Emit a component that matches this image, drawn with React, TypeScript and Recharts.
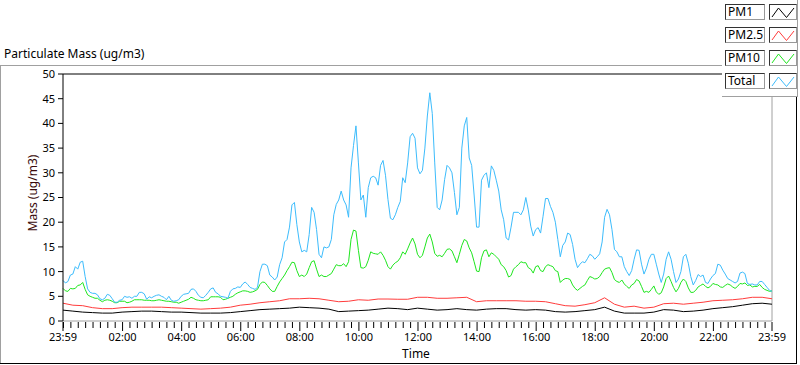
import React from 'react';
import { LineChart, Line, XAxis, YAxis, ReferenceLine } from 'recharts';

// Total mass, one value every 5 minutes starting 23:59
const totalValues = [
  8.2, 7.7, 8.0, 9.3, 9.5, 11.0, 10.5, 11.9, 12.1, 9.0,
  6.5, 5.8, 5.6, 5.6, 5.3, 4.5, 4.3, 4.6, 5.4, 5.2,
  4.5, 3.8, 3.8, 4.2, 4.3, 5.0, 4.8, 4.9, 4.6, 5.0,
  5.0, 5.8, 5.8, 5.5, 4.4, 4.9, 4.7, 5.0, 5.2, 5.3,
  5.0, 4.8, 4.3, 5.0, 4.2, 4.0, 4.1, 4.3, 5.0, 5.4,
  5.5, 5.6, 6.4, 6.5, 6.0, 5.2, 4.8, 4.7, 5.2, 5.8,
  6.5, 6.7, 5.8, 5.5, 5.0, 4.9, 4.8, 4.6, 6.0, 6.5,
  6.6, 6.9, 6.8, 7.5, 7.9, 7.4, 6.8, 6.6, 6.4, 6.8,
  10.0, 11.5, 11.5, 11.2, 9.3, 8.9, 8.3, 8.9, 11.4, 12.8,
  16.0, 16.5, 19.0, 23.5, 24.0, 19.5, 16.0, 14.0, 14.3, 14.0,
  17.5, 23.0, 22.0, 18.5, 13.5, 12.8, 15.0, 14.8, 15.0, 16.5,
  21.5, 23.6, 24.5, 26.3, 24.5, 23.5, 21.0,
  31.0, 35.5, 39.5, 32.0, 24.5, 25.5, 21.0, 27.0, 29.0, 29.3,
  29.0, 27.5, 31.5, 32.5, 29.5, 24.6, 20.8, 20.5, 21.5, 23.0,
  24.2, 29.0, 28.0, 32.0, 37.3, 38.0, 37.0, 31.0, 29.8, 30.5,
  35.0, 41.5, 46.2, 42.0, 32.0, 23.0, 22.5, 24.5, 28.6, 31.5,
  31.0, 30.0, 26.0, 21.5, 23.0, 35.0, 39.5, 41.2, 33.0, 31.5,
  25.5, 19.0, 19.0, 28.5, 29.5, 30.0, 27.0,
  31.4, 30.5, 28.5, 26.3, 22.5, 20.5, 16.8, 16.4, 19.0, 22.0,
  22.0, 22.0, 21.5, 22.5, 25.0, 22.5, 19.2, 17.2, 18.5, 18.9,
  17.8, 21.2, 24.8, 24.8, 23.2, 22.0, 20.0, 16.5, 13.0, 15.3,
  16.0, 17.8, 17.5, 15.5, 12.5, 10.8, 11.5, 12.0, 11.8, 12.6,
  13.5, 13.2, 12.5, 13.0, 13.6, 16.0, 21.0, 22.6, 21.5, 18.5,
  14.5, 14.0, 13.0, 13.0, 11.0,
  10.0, 9.2, 10.2, 12.5, 14.4, 14.3, 11.5, 9.5, 10.7, 12.5,
  13.5, 13.5, 11.5, 9.5, 7.8, 9.5, 12.5, 14.0, 12.5, 10.0,
  7.8, 8.5, 10.0, 13.0, 13.5, 11.7, 9.0, 7.3, 8.2, 9.4,
  9.0, 9.3, 7.8, 7.6, 8.5, 9.2, 9.6, 11.5, 11.3, 10.3,
  9.5, 8.6, 8.3, 8.0, 7.7, 8.0, 9.7, 9.9, 9.6, 7.6,
  7.4, 7.5, 7.3, 7.3, 8.0, 8.0, 7.4, 6.8, 6.2, 6.0,
];

// PM10, one value every 5 minutes starting 23:59
const pm10Values = [
  6.6, 6.1, 6.0, 6.6, 6.5, 6.6, 7.2, 7.3, 7.8, 6.4,
  5.3, 5.0, 4.8, 4.6, 4.6, 4.2, 3.9, 4.2, 4.3, 4.2,
  4.0, 3.7, 3.7, 4.0, 4.0, 4.0, 3.7, 3.8, 4.0, 4.3,
  4.3, 4.3, 4.3, 4.2, 4.2, 4.2, 4.1, 4.1, 4.2, 4.3,
  4.2, 4.1, 4.0, 4.0, 3.9, 3.8, 3.8, 3.6, 3.8, 4.0,
  4.2, 4.4, 4.8, 4.6, 4.3, 4.2, 4.1, 4.1, 4.2, 4.3,
  4.9, 4.9, 4.9, 4.9, 4.8, 4.3, 4.4, 4.6, 4.8, 5.0,
  5.4, 5.7, 5.9, 6.1, 6.1, 6.0, 5.8, 5.9, 6.1, 6.4,
  7.4, 7.9, 7.8, 7.2, 6.5, 6.0, 6.0, 7.0, 7.9, 8.6,
  9.3, 10.2, 11.0, 11.9, 11.8, 10.2, 9.0, 9.3, 9.0, 9.5,
  10.8, 12.0, 12.2, 10.5, 9.0, 9.3, 9.0, 9.0, 9.3, 9.6,
  10.5, 11.4, 11.2, 11.2, 11.6, 11.0, 12.0,
  16.5, 18.4, 18.2, 14.3, 10.8, 10.7, 11.0, 12.3, 14.0, 13.7,
  13.6, 13.5, 14.0, 13.3, 12.3, 11.0, 10.5, 11.3, 11.8, 12.1,
  12.8, 14.0, 13.5, 14.6, 15.8, 16.8, 15.6, 13.5, 12.8, 13.3,
  15.0, 16.8, 17.6, 16.0, 13.7, 13.1, 13.3, 13.0, 13.7, 14.5,
  14.6, 14.2, 13.0, 11.8, 13.5, 15.3, 16.5, 16.2, 14.8, 13.8,
  12.0, 10.1, 10.0, 12.8, 14.2, 14.4, 13.0,
  13.8, 13.5, 13.0, 12.5, 11.4, 11.0, 10.2, 8.9, 9.2, 10.5,
  11.0, 11.4, 12.0, 11.8, 11.8, 10.8, 10.5, 9.7, 11.0, 11.2,
  10.2, 10.0, 11.0, 11.4, 11.2, 11.0, 10.2, 10.0, 7.8, 8.3,
  8.6, 8.6, 8.4, 7.3, 6.6, 6.2, 6.6, 7.0, 7.3, 8.2,
  9.0, 8.8, 8.5, 8.6, 9.0, 9.8, 10.5, 10.7, 10.8, 9.8,
  8.4, 8.0, 7.8, 8.3, 7.5,
  7.0, 6.6, 7.3, 7.6, 8.4, 8.1, 7.0, 5.8, 6.0, 5.8,
  6.4, 7.1, 5.9, 5.4, 5.7, 6.9, 8.6, 9.1, 8.0, 6.8,
  5.9, 6.6, 7.8, 8.5, 8.0, 6.7, 5.8, 5.8, 6.2, 6.9,
  7.2, 7.5, 7.0, 6.7, 7.0, 7.6, 7.4, 7.3, 6.9, 6.8,
  7.2, 7.5, 7.3, 6.9, 6.6, 7.0, 7.6, 7.5, 7.7, 7.2,
  7.3, 6.9, 7.0, 7.0, 7.4, 6.8, 6.4, 6.2, 6.0, 6.1,
];

// PM2.5, one value every 20 minutes starting 23:59
const pm25Values = [
  3.6, 3.2, 3.1, 2.7, 2.5, 2.5, 2.7, 2.8, 2.8, 2.8,
  2.8, 2.7, 2.6, 2.5, 2.4, 2.5, 2.6, 2.8, 3.2, 3.4,
  3.7, 3.9, 4.1, 4.5, 4.5, 4.6, 4.5, 4.2, 3.9, 4.0,
  4.3, 4.2, 4.45, 4.45, 4.4, 4.4, 4.8, 4.8, 4.6, 4.6,
  4.7, 4.8, 3.9, 4.1, 4.1, 4.1, 4.1, 4.0, 4.0, 3.9,
  3.5, 3.1, 3.0, 3.3, 3.7, 4.7, 3.4, 2.8, 3.0, 2.6,
  2.8, 3.5, 3.6, 3.4, 3.6, 3.8, 4.1, 4.2, 4.3, 4.5,
  4.8, 4.8, 4.5,
];

// PM1, one value every 20 minutes starting 23:59
const pm1Values = [
  2.2, 2.0, 1.8, 1.7, 1.6, 1.6, 1.8, 1.9, 2.0, 2.0,
  1.9, 1.8, 1.8, 1.7, 1.6, 1.6, 1.6, 1.7, 1.9, 2.1,
  2.3, 2.4, 2.5, 2.6, 2.8, 2.7, 2.6, 2.4, 1.9, 2.0,
  2.1, 2.2, 2.4, 2.6, 2.5, 2.3, 2.6, 2.4, 2.2, 2.3,
  2.5, 2.3, 2.2, 2.4, 2.5, 2.5, 2.3, 2.2, 2.3, 2.2,
  1.9, 1.8, 1.9, 2.1, 2.3, 2.8, 2.0, 1.6, 1.6, 1.6,
  1.8, 2.3, 2.2, 1.9, 2.0, 2.2, 2.5, 2.7, 2.9, 3.2,
  3.5, 3.6, 3.4,
];

const yTicks = [0, 5, 10, 15, 20, 25, 30, 35, 40, 45, 50];
// minutes since midnight; -1 = 23:59 of the previous day
const majorTicks = [-1, 120, 240, 360, 480, 600, 720, 840, 960, 1080, 1200, 1320, 1439];
const majorLabels = ['23:59', '02:00', '04:00', '06:00', '08:00', '10:00', '12:00', '14:00', '16:00', '18:00', '20:00', '22:00', '23:59'];

const seriesNames = ['PM1', 'PM2.5', 'PM10', 'Total'];
const seriesColors = ['#000000', '#ff3c3c', '#1ee61e', '#3cbcfc'];

const START = -1;
const fineData = totalValues.map((v, i) => ({ t: START + i * 5, total: v, pm10: pm10Values[i] }));
const coarseData = pm25Values.map((v, i) => ({ t: START + i * 20, pm25: v, pm1: pm1Values[i] }));

const minorTicks: number[] = [];
for (let m = 0; m < 1439; m += 15) {
  if (!majorTicks.includes(m)) minorTicks.push(m);
}
const allTicks = [...majorTicks, ...minorTicks].sort((a, b) => a - b);

const FONT = "'Noto Sans', 'Open Sans', sans-serif";

const XTick = (props: any) => {
  const { x, y, payload } = props;
  const idx = majorTicks.indexOf(payload.value);
  const major = idx >= 0;
  return (
    <g>
      <line x1={x} y1={y + 1} x2={x} y2={y + (major ? 10 : 7)} stroke="#000" strokeWidth={1} />
      {major && (
        <text x={x} y={y + 20} textAnchor="middle" fontSize={11} fill="#000" fontFamily={FONT}>
          {majorLabels[idx]}
        </text>
      )}
    </g>
  );
};

const Swatch = ({ color }: { color: string }) => (
  <svg width={26} height={13} style={{ display: 'block' }}>
    <polyline points="2,11 8.5,2 16.5,11.5 24,2" fill="none" stroke={color} strokeWidth={1} />
  </svg>
);

export default function App() {
  return (
    <div style={{ position: 'absolute', left: 0, top: 0, width: 800, height: 365, background: '#fff', fontFamily: FONT, overflow: 'hidden' }}>
      {/* title and frame */}
      <div style={{ position: 'absolute', left: 4, top: 46, fontSize: 12, color: '#000', lineHeight: '16px', whiteSpace: 'nowrap' }}>
        Particulate Mass (ug/m3)
      </div>
      <div style={{ position: 'absolute', left: 0, top: 65, width: 722, height: 1, background: '#a0a0a0' }} />
      <div style={{ position: 'absolute', left: 0, top: 65, width: 1, height: 299, background: '#a0a0a0' }} />
      <div style={{ position: 'absolute', left: 0, top: 363, width: 797, height: 1, background: '#000' }} />
      <div style={{ position: 'absolute', left: 796, top: 97, width: 1, height: 267, background: '#000' }} />

      <div style={{ position: 'absolute', left: 0, top: 0 }}>
        <LineChart width={800} height={365} margin={{ top: 74, right: 28, bottom: 0, left: 0 }}>
          <XAxis
            type="number"
            dataKey="t"
            domain={[-1, 1439]}
            ticks={allTicks}
            interval={0}
            height={44}
            tickSize={0}
            tickMargin={0}
            tickLine={false}
            tick={<XTick />}
            axisLine={{ stroke: '#a0a0a0' }}
            allowDuplicatedCategory={false}
          />
          <YAxis
            type="number"
            domain={[0, 50]}
            ticks={yTicks}
            interval={0}
            width={63}
            tickSize={5}
            tickMargin={3}
            tickLine={{ stroke: '#000' }}
            axisLine={{ stroke: '#000' }}
            tick={{ fill: '#000', fontSize: 11, fontFamily: FONT }}
          />
          <ReferenceLine y={50} stroke="#000" ifOverflow="extendDomain" />
          <ReferenceLine x={1439} stroke="#a0a0a0" ifOverflow="extendDomain" />
          <Line data={coarseData} dataKey="pm1" type="linear" stroke={seriesColors[0]} strokeWidth={1} dot={false} isAnimationActive={false} />
          <Line data={coarseData} dataKey="pm25" type="linear" stroke={seriesColors[1]} strokeWidth={1} dot={false} isAnimationActive={false} />
          <Line data={fineData} dataKey="pm10" type="linear" stroke={seriesColors[2]} strokeWidth={1} dot={false} isAnimationActive={false} />
          <Line data={fineData} dataKey="total" type="linear" stroke={seriesColors[3]} strokeWidth={1} dot={false} isAnimationActive={false} />
        </LineChart>
      </div>

      {/* axis titles */}
      <div style={{ position: 'absolute', left: 33, top: 193, transform: 'translate(-50%, -50%) rotate(-90deg)', fontSize: 12, color: '#3a0a0a', whiteSpace: 'nowrap', lineHeight: '14px' }}>
        Mass (ug/m3)
      </div>
      <div style={{ position: 'absolute', left: 416, top: 354, transform: 'translate(-50%, -50%)', fontSize: 12, color: '#000', whiteSpace: 'nowrap', lineHeight: '14px' }}>
        Time
      </div>

      {/* legend */}
      <div style={{ position: 'absolute', left: 722, top: 0, width: 75, height: 96, background: '#fff', borderRight: '1px solid #a0a0a0', borderBottom: '1px solid #a0a0a0' }}>
        {seriesNames.map((name, i) => (
          <div key={name} style={{ position: 'absolute', left: 3, top: 4 + i * 23, height: 16, display: 'flex' }}>
            <div style={{ width: 36, height: 14, background: '#fff', borderTop: '1px solid #333', borderLeft: '1px solid #333', borderRight: '1px solid #999', borderBottom: '1px solid #999', fontSize: 12, lineHeight: '14px', paddingLeft: 2, boxSizing: 'content-box', color: '#000', whiteSpace: 'nowrap', overflow: 'hidden' }}>
              {name}
            </div>
            <div style={{ marginLeft: 4, width: 26, height: 14, background: '#fff', borderTop: '1px solid #333', borderLeft: '1px solid #333', borderRight: '1px solid #999', borderBottom: '1px solid #999', display: 'flex', alignItems: 'center' }}>
              <Swatch color={seriesColors[i]} />
            </div>
          </div>
        ))}
      </div>
    </div>
  );
}
